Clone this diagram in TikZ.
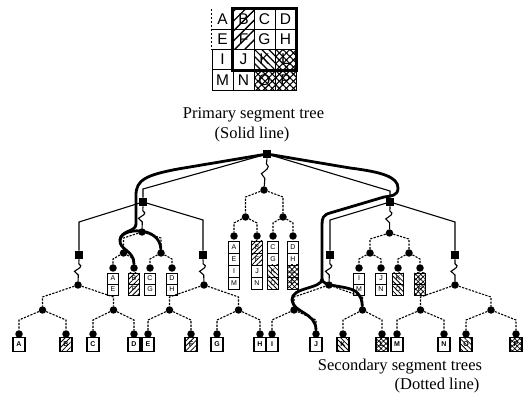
\documentclass[tikz,border=0pt]{standalone}
\usepackage{fontspec}
\setmainfont{Liberation Serif}
\newfontfamily\hv{Liberation Sans}
\usetikzlibrary{calc,patterns.meta}
\tikzset{
  pline/.style={line width=1.1pt},
  qline/.style={line width=2.8pt, line cap=round},
  dline/.style={line width=1.1pt, dash pattern=on 2.2pt off 1.3pt},
  psq/.style={rectangle, fill=black, minimum width=7.5pt, minimum height=8.5pt, inner sep=0pt},
  sc/.style={circle, fill=black, minimum size=7.5pt, inner sep=0pt},
  gcell/.style={draw, line width=0.9pt, minimum width=21pt, minimum height=20.25pt, inner sep=0pt, font=\hv\fontsize{15.5}{15.5}\selectfont},
  gtext/.style={minimum width=21pt, minimum height=20.25pt, inner sep=0pt, font=\hv\fontsize{15.5}{15.5}\selectfont},
  scell/.style={draw, line width=0.8pt, minimum width=11pt, minimum height=12pt, inner sep=0pt, font=\hv\fontsize{7}{7}\selectfont},
  tcell/.style={scell, minimum height=11pt},
  lcell/.style={draw, line width=1.1pt, minimum width=12pt, minimum height=13.5pt, inner sep=0pt, font=\hv\bfseries\fontsize{7}{7}\selectfont},
  hne/.style={pattern={Lines[angle=45,distance=3.5pt,line width=0.8pt]}},
  hnw/.style={pattern={Lines[angle=-45,distance=3.5pt,line width=0.8pt]}},
  hx/.style={pattern={Hatch[angle=45,distance=3.5pt,line width=0.7pt]}},
  ghne/.style={pattern={Lines[angle=45,distance=7pt,line width=1.4pt]}},
  ghnw/.style={pattern={Lines[angle=-45,distance=5pt,line width=1.2pt]}},
  ghx/.style={pattern={Hatch[angle=45,distance=5pt,line width=1.1pt]}},
  captxt/.style={font=\fontsize{16.5}{16.5}\selectfont, anchor=base, inner sep=0pt}
}
\newcommand\tedge[4]{\draw[#1] (#2) -- ($(#2 -| #3)+(0,#4)$) -- (#3);}
\newcommand\wavy[2]{\draw[pline] (#1.south) -- ($(#1.south)!0.2!(#2.north)$) .. controls +(5,3) and +(4,-3) .. ($(#1.south)!0.55!(#2.north)+(-4,0)$) -- ($(#1.south)!0.72!(#2.north)$) -- (#2);}
\begin{document}
\begin{tikzpicture}[x=1pt,y=-1pt]
\useasboundingbox (0,0) rectangle (530,403);
% ---------- grid ----------
\node[gtext] (gA) at (222.5,19.1) {A};
\node[gcell,ghne] (gB) at (243.5,19.1) {B};
\node[gcell] (gC) at (264.5,19.1) {C};
\node[gcell] (gD) at (285.5,19.1) {D};
\node[gtext] (gE) at (222.5,39.4) {E};
\node[gcell,ghne] (gF) at (243.5,39.4) {F};
\node[gcell] (gG) at (264.5,39.4) {G};
\node[gcell] (gH) at (285.5,39.4) {H};
\node[gcell] (gI) at (222.5,59.6) {I};
\node[gcell] (gJ) at (243.5,59.6) {J};
\node[gcell,ghnw] (gK) at (264.5,59.6) {K};
\node[gcell,ghx] (gL) at (285.5,59.6) {L};
\node[gcell] (gM) at (222.5,79.9) {M};
\node[gcell] (gN) at (243.5,79.9) {N};
\node[gcell,ghx] (gO) at (264.5,79.9) {O};
\node[gcell,ghx] (gP) at (285.5,79.9) {P};
\draw[line width=0.9pt] (gA.south west) -- (gA.south east);
\draw[line width=0.9pt, dash pattern=on 2pt off 2pt] (gA.north west) -- (gE.south west);
\draw[line width=2.8pt] (gB.north west) rectangle (gL.south east);
% ---------- captions ----------
\node[captxt] (c1) at (253.5,119) {Primary segment tree};
\node[captxt] (c2) at (252,139) {(Solid line)};
\node[captxt] (c3) at (400,370) {Secondary segment trees};
\node[captxt] (c4) at (437,389) {(Dotted line)};
% ---------- primary tree ----------
\node[psq] (P0) at (267,154) {};
\node[psq] (P1) at (143,202) {};
\node[psq] (P2) at (390,202) {};
\node[psq] (P11) at (79,255) {};
\node[psq] (P12) at (203,255) {};
\node[psq] (P21) at (330,255) {};
\node[psq] (P22) at (455,255) {};
\tedge{pline}{P0}{P1}{35}
\tedge{pline}{P0}{P2}{37}
\tedge{pline}{P1}{P11}{20}
\tedge{pline}{P1}{P12}{18}
\tedge{pline}{P2}{P21}{18}
\tedge{pline}{P2}{P22}{20}
% ---------- secondary tree of root ----------
\node[sc] (a0) at (264,190) {};
\node[sc] (a1) at (245.5,217) {};
\node[sc] (a2) at (283,217) {};
\node[sc] (a11) at (234,236) {};
\node[sc] (a12) at (257,236) {};
\node[sc] (a21) at (273,236) {};
\node[sc] (a22) at (293,236) {};
\tedge{dline}{a0}{a1}{7}
\tedge{dline}{a0}{a2}{7}
\tedge{dline}{a1}{a11}{6}
\tedge{dline}{a1}{a12}{6}
\tedge{dline}{a2}{a21}{6}
\tedge{dline}{a2}{a22}{6}
\wavy{P0}{a0}
\node[scell] (sA) at (234,247) {A};
\node[scell] (sE) at (234,259) {E};
\node[scell] (sI) at (234,271) {I};
\node[scell] (sM) at (234,283) {M};
\node[scell,hne] (sB) at (257,247) {B};
\node[scell,hne] (sF) at (257,259) {F};
\node[scell] (sJ) at (257,271) {J};
\node[scell] (sN) at (257,283) {N};
\node[scell] (sC) at (273,247) {C};
\node[scell] (sG) at (273,259) {G};
\node[scell,hnw] (sK) at (273,271) {K};
\node[scell,hnw] (sO) at (273,283) {O};
\node[scell] (sD) at (293,247) {D};
\node[scell] (sH) at (293,259) {H};
\node[scell,hx] (sL) at (293,271) {L};
\node[scell,hx] (sP) at (293,283) {P};
% ---------- secondary tree of P1 ----------
\node[sc] (b0) at (142,232) {};
\node[sc] (b1) at (123.5,253) {};
\node[sc] (b2) at (161,253) {};
\node[sc] (b11) at (113,268) {};
\node[sc] (b12) at (134,268) {};
\node[sc] (b21) at (150,268) {};
\node[sc] (b22) at (172,268) {};
\tedge{dline}{b0}{b1}{6}
\tedge{dline}{b0}{b2}{6}
\tedge{dline}{b1}{b11}{6}
\tedge{dline}{b1}{b12}{6}
\tedge{dline}{b2}{b21}{6}
\tedge{dline}{b2}{b22}{6}
\wavy{P1}{b0}
\node[tcell] (tA) at (113,278.5) {A};
\node[tcell] (tE) at (113,289.5) {E};
\node[tcell,hne] (tB) at (134,278.5) {B};
\node[tcell,hne] (tF) at (134,289.5) {F};
\node[tcell] (tC) at (150,278.5) {C};
\node[tcell] (tG) at (150,289.5) {G};
\node[tcell] (tD) at (172,278.5) {D};
\node[tcell] (tH) at (172,289.5) {H};
% ---------- secondary tree of P2 ----------
\node[sc] (c0) at (389.5,233) {};
\node[sc] (c1n) at (370,253) {};
\node[sc] (c2n) at (409,253) {};
\node[sc] (c11) at (359,268) {};
\node[sc] (c12) at (381,268) {};
\node[sc] (c21) at (398,268) {};
\node[sc] (c22) at (420,268) {};
\tedge{dline}{c0}{c1n}{6}
\tedge{dline}{c0}{c2n}{6}
\tedge{dline}{c1n}{c11}{6}
\tedge{dline}{c1n}{c12}{6}
\tedge{dline}{c2n}{c21}{6}
\tedge{dline}{c2n}{c22}{6}
\wavy{P2}{c0}
\node[tcell] (uI) at (359,278.5) {I};
\node[tcell] (uM) at (359,289.5) {M};
\node[tcell] (uJ) at (381,278.5) {J};
\node[tcell] (uN) at (381,289.5) {N};
\node[tcell,hnw] (uK) at (398,278.5) {K};
\node[tcell,hnw] (uO) at (398,289.5) {O};
\node[tcell,hx] (uL) at (420,278.5) {L};
\node[tcell,hx] (uP) at (420,289.5) {P};
% ---------- bottom secondary trees ----------
\node[sc] (d0) at (78,285) {};
\node[sc] (d1) at (42.5,310) {};
\node[sc] (d2) at (113.5,310) {};
\node[sc] (e0) at (204,285) {};
\node[sc] (e1) at (169.5,310) {};
\node[sc] (e2) at (238.5,310) {};
\node[sc] (f0) at (329,285) {};
\node[sc] (f1) at (294,310) {};
\node[sc] (f2) at (362.5,310) {};
\node[sc] (g0) at (455,285) {};
\node[sc] (g1) at (420.5,310) {};
\node[sc] (g2) at (491,310) {};
\foreach \n/\x in {lA/19,lB/66,lC/93,lD/134,lE/148,lF/191,lG/217,lH/260,lI/272,lJ/316,lK/343,lL/382,lM/397,lN/444,lO/466,lP/516}
  \node[sc] (\n) at (\x,334) {};
\foreach \p/\a/\b/\c/\d in {d0/d1/d2/lA/lB, e0/e1/e2/lE/lF, f0/f1/f2/lI/lJ, g0/g1/g2/lM/lN}{
  \tedge{dline}{\p}{\a}{12}
  \tedge{dline}{\p}{\b}{12}
  \tedge{dline}{\a}{\c}{10}
  \tedge{dline}{\a}{\d}{10}
}
\foreach \a/\c/\d in {d2/lC/lD, e2/lG/lH, f2/lK/lL, g2/lO/lP}{
  \tedge{dline}{\a}{\c}{10}
  \tedge{dline}{\a}{\d}{10}
}
\wavy{P11}{d0}
\wavy{P12}{e0}
\wavy{P21}{f0}
\wavy{P22}{g0}
\node[lcell] (xA) at (19,344.5) {A};
\node[lcell,hne] (xB) at (66,344.5) {B};
\node[lcell] (xC) at (93,344.5) {C};
\node[lcell] (xD) at (134,344.5) {D};
\node[lcell] (xE) at (148,344.5) {E};
\node[lcell,hne] (xF) at (191,344.5) {F};
\node[lcell] (xG) at (217,344.5) {G};
\node[lcell] (xH) at (260,344.5) {H};
\node[lcell] (xI) at (272,344.5) {I};
\node[lcell] (xJ) at (316,344.5) {J};
\node[lcell,hnw] (xK) at (343,344.5) {K};
\node[lcell,hx] (xL) at (382,344.5) {L};
\node[lcell] (xM) at (397,344.5) {M};
\node[lcell] (xN) at (444,344.5) {N};
\node[lcell,hnw] (xO) at (466,344.5) {O};
\node[lcell,hx] (xP) at (516,344.5) {P};
% ---------- query path (thick) ----------
\coordinate (q1) at (136,224);
\coordinate (q2) at (120,240);
\draw[qline] (P0) -- (178,169) .. controls (146,175) and (136,180) .. (136,195) -- (q1)
  .. controls (136,232) and (121,230) .. (q2) .. controls (119,250) and (134,250) .. (b12);
\draw[qline] (q2) .. controls (121,227) and (160,226) .. (b2);
\coordinate (q3) at (322,279);
\draw[qline] (P0) -- (350,168) .. controls (382,172) and (398,177) .. (398,188)
  .. controls (398,196) and (391,196) .. (384,197) -- (330,213)
  .. controls (323,215) and (322,218) .. (322,225) -- (q3)
  .. controls (322,289) and (291,287) .. (292,300) .. controls (293,313) and (316,312) .. (lJ);
\draw[qline] (q3) .. controls (322,287) and (345,285) .. (355,291) .. controls (362,296) and (362,302) .. (f2);
\end{tikzpicture}
\end{document}
